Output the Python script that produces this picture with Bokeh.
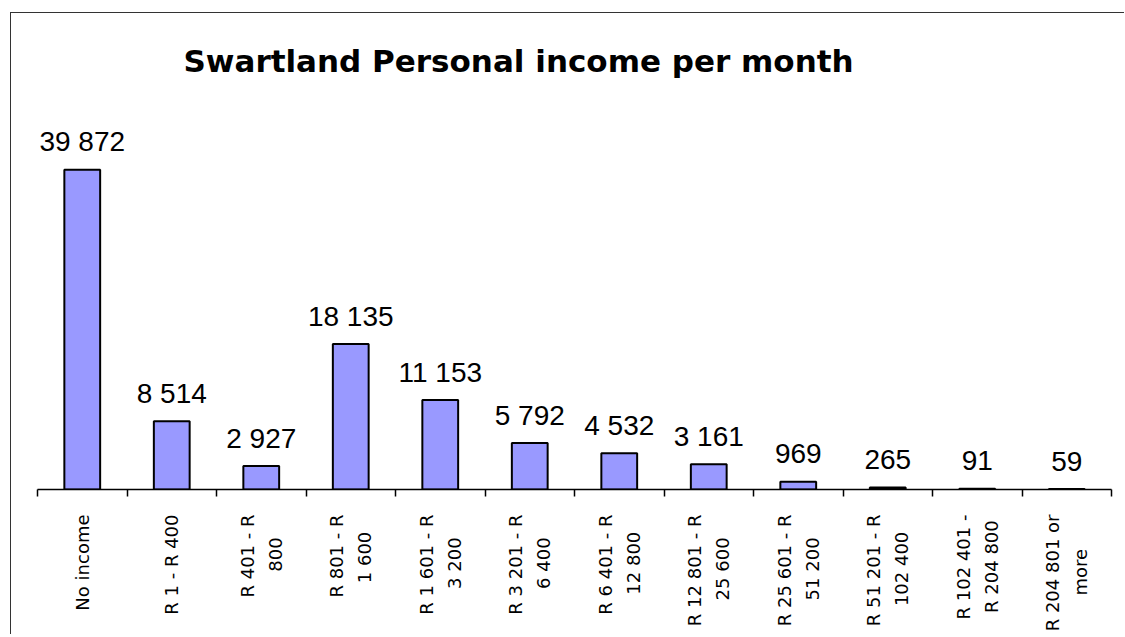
from math import pi
from bokeh.plotting import figure
from bokeh.models import ColumnDataSource, Range1d, LinearAxis, FixedTicker
from bokeh.core.properties import value
from bokeh.embed import file_html
from bokeh.resources import INLINE

NB = "\u00a0"

title_text = "Swartland Personal income per month"
categories = ["No income", "R 1 - R 400", "R 401 - R 800", "R 801 - R 1 600",
              "R 1 601 - R 3 200", "R 3 201 - R 6 400", "R 6 401 - R 12 800",
              "R 12 801 - R 25 600", "R 25 601 - R 51 200", "R 51 201 - R 102 400",
              "R 102 401 - R 204 800", "R 204 801 or more"]
tick_line1 = ["No income", "R 1 - R 400", "R 401 - R", "R 801 - R", "R 1 601 - R",
              "R 3 201 - R", "R 6 401 - R", "R 12 801 - R", "R 25 601 - R",
              "R 51 201 - R", "R 102 401 -", "R 204 801 or"]
tick_line2 = ["", "", "800", "1 600", "3 200", "6 400", "12 800", "25 600", "51 200",
              "102 400", "R 204 800", "more"]
line2_pad = [0, 0, 4, 3, 4, 4, 3, 4, 4, 3, 1, 6]
values = [39872, 8514, 2927, 18135, 11153, 5792, 4532, 3161, 969, 265, 91, 59]
value_labels = [f"{v:,}".replace(",", " ") for v in values]

tick_labels = [a if not b else a + "\n" + b + NB * k
               for a, b, k in zip(tick_line1, tick_line2, line2_pad)]

n = len(categories)
centers = [i + 0.5 for i in range(n)]
src = ColumnDataSource(dict(pos=centers, cat=categories, val=values, lbl=value_labels))

p = figure(width=1114, height=622, x_range=Range1d(0, n),
           y_range=Range1d(0, 47900), output_backend="svg", toolbar_location=None,
           x_axis_location=None, y_axis_location=None,
           min_border_left=26, min_border_right=14, min_border_top=90, min_border_bottom=146)
p.grid.visible = False
p.outline_line_color = None
p.background_fill_color = "white"
p.border_fill_color = "white"
p.styles = {"border-style": "solid none none solid", "border-width": "1px 0px 0px 1px",
            "border-color": "#333333", "margin-left": "10px", "margin-top": "12px"}

p.title.text = title_text
p.title.text_font = "DejaVu Sans"
p.title.text_font_size = "31px"
p.title.text_font_style = "bold"
p.title.text_color = "black"
p.title.align = "left"
p.title.offset = 146
p.title.standoff = 54

edge_axis = LinearAxis(ticker=FixedTicker(ticks=list(range(n + 1))),
                       major_label_text_font_size="0px", major_tick_out=7, major_tick_in=0,
                       minor_tick_line_color=None, axis_line_width=1.5, major_tick_line_width=1.5,
                       major_label_standoff=0)
p.add_layout(edge_axis, "below")
cat_axis = LinearAxis(ticker=FixedTicker(ticks=centers), axis_line_color=None,
                      major_tick_line_color=None, minor_tick_line_color=None,
                      major_label_orientation=pi / 2,
                      major_label_overrides=dict(zip(centers, tick_labels)),
                      major_label_text_font="DejaVu Sans", major_label_text_font_size="18px",
                      major_label_text_color="black", major_label_standoff=12,
                      major_label_text_line_height=1.35)
p.add_layout(cat_axis, "below")

p.vbar(x="pos", top="val", width=0.4, source=src, fill_color="#9999FF",
       line_color="black", line_width=2)
p.text(x="pos", y="val", text="lbl", source=src, text_align="center",
       text_baseline="alphabetic", y_offset=-28, text_font=value("Liberation Sans"),
       text_font_size="28px", text_color="black")

open("out.html", "w").write(file_html(p, INLINE))
